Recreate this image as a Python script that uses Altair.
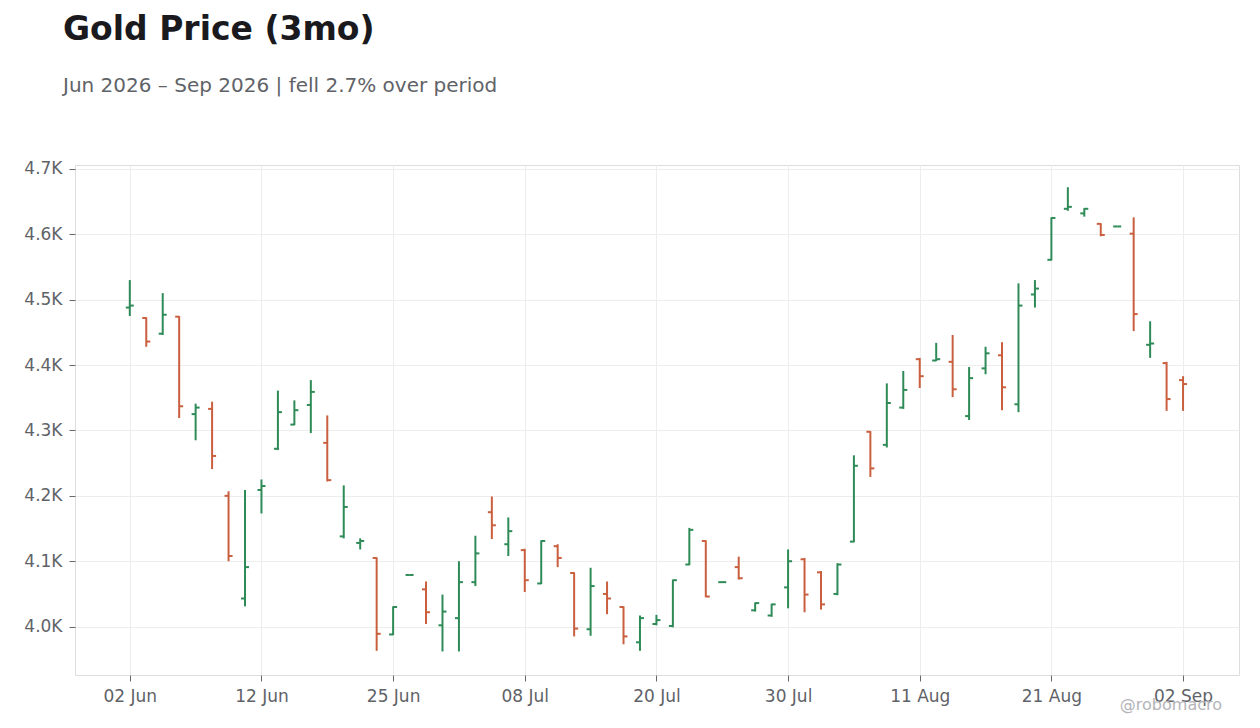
"""Gold price OHLC chart, last three months"""

import pandas as pd
import altair as alt

# trading days 02 Jun 2026 .. 02 Sep 2026 (US market holidays skipped)
holidays = ["2026-06-19", "2026-07-03"]
dates = pd.bdate_range("2026-06-02", "2026-09-02", freq="C", holidays=holidays)
tick_labels = [d.strftime("%d %b") for d in dates[::8]]

opens = [4488, 4472, 4448, 4474, 4325, 4333, 4200, 4043, 4209, 4272, 4309, 4339, 4281,
         4138, 4128, 4105, 3988, 4079, 4057, 4002, 4013, 4068, 4175, 4126, 4117, 4066,
         4123, 4082, 3996, 4050, 4030, 3976, 4004, 4001, 4095, 4131, 4068, 4091, 4025,
         4017, 4060, 4103, 4083, 4050, 4130, 4298, 4278, 4335, 4409, 4407, 4405, 4322,
         4395, 4415, 4340, 4508, 4561, 4639, 4632, 4616, 4612, 4601, 4431, 4403, 4377]
highs = [4530, 4473, 4510, 4475, 4341, 4344, 4207, 4209, 4225, 4361, 4346, 4377, 4323,
         4216, 4135, 4106, 4031, 4079, 4069, 4049, 4100, 4139, 4199, 4167, 4119, 4132,
         4126, 4083, 4090, 4069, 4031, 4017, 4018, 4072, 4151, 4132, 4069, 4107, 4037,
         4035, 4118, 4105, 4085, 4097, 4262, 4299, 4372, 4391, 4411, 4434, 4446, 4397,
         4428, 4435, 4525, 4530, 4626, 4672, 4640, 4617, 4612, 4626, 4467, 4405, 4383]
lows = [4475, 4428, 4446, 4319, 4285, 4241, 4100, 4031, 4173, 4270, 4308, 4296, 4222,
        4135, 4118, 3963, 3987, 4078, 4004, 3962, 3962, 4062, 4134, 4108, 4053, 4065,
        4091, 3985, 3986, 4019, 3973, 3963, 4002, 3999, 4094, 4045, 4067, 4072, 4023,
        4015, 4028, 4022, 4026, 4048, 4129, 4229, 4274, 4333, 4365, 4406, 4351, 4316,
        4386, 4331, 4328, 4488, 4560, 4636, 4627, 4597, 4612, 4452, 4411, 4330, 4330]
closes = [4491, 4436, 4477, 4337, 4335, 4261, 4108, 4091, 4215, 4328, 4331, 4359, 4224,
          4183, 4131, 3989, 4030, 4079, 4022, 4023, 4068, 4112, 4155, 4146, 4071, 4131,
          4105, 3997, 4062, 4043, 3985, 4013, 4010, 4071, 4148, 4046, 4068, 4074, 4036,
          4034, 4100, 4049, 4034, 4095, 4246, 4242, 4342, 4362, 4383, 4409, 4363, 4380,
          4418, 4366, 4491, 4517, 4625, 4642, 4639, 4599, 4612, 4478, 4433, 4348, 4371]

UP = "#2e8b57"
DOWN = "#c95f3e"
FONT = "DejaVu Sans"

df = pd.DataFrame({
    "i": range(len(dates)),
    "date": dates.strftime("%Y-%m-%d"),
    "open": opens,
    "high": highs,
    "low": lows,
    "close": closes,
})
df["dir"] = ["up" if c >= o else "down" for o, c in zip(opens, closes)]

label_js = "[" + ",".join(f"'{t}'" for t in tick_labels) + "]"

x_enc = alt.X(
    "i:Q",
    scale=alt.Scale(domain=[-3.33, 67.4], nice=False, zero=False),
    axis=alt.Axis(
        values=list(range(0, len(dates), 8)),
        labelExpr=f"{label_js}[round(datum.value / 8)]",
        title=None,
    ),
)
y_scale = alt.Scale(domain=[3926, 4706], nice=False, zero=False)
color_enc = alt.Color(
    "dir:N",
    scale=alt.Scale(domain=["up", "down"], range=[UP, DOWN]),
    legend=None,
)

base = alt.Chart(df)

# high-low bar
wick = base.mark_rule(strokeWidth=2).encode(
    x=x_enc,
    y=alt.Y(
        "low:Q",
        scale=y_scale,
        axis=alt.Axis(
            values=list(range(4000, 4701, 100)),
            labelExpr="format(datum.value / 1000, '.1f') + 'K'",
            title=None,
        ),
    ),
    y2="high:Q",
    color=color_enc,
)

# open tick on the left, close tick on the right
open_tick = base.mark_rule(strokeWidth=2, x2Offset=-4).encode(
    x="i:Q", x2="i:Q", y="open:Q", color=color_enc,
)
close_tick = base.mark_rule(strokeWidth=2, x2Offset=4).encode(
    x="i:Q", x2="i:Q", y="close:Q", color=color_enc,
)

watermark = alt.Chart(pd.DataFrame({"t": ["@robomacro"]})).mark_text(
    align="right", baseline="alphabetic", font=FONT, fontSize=16, color="#b4b4b8",
).encode(x=alt.value(1147), y=alt.value(545), text="t:N")

chart = (wick + open_tick + close_tick + watermark).properties(
    width=1164,
    height=510,
    autosize=alt.AutoSizeParams(type="none"),
    padding={"left": 67, "top": 157, "right": 12, "bottom": 40},
    title=alt.TitleParams(
        text="Gold Price (3mo)",
        subtitle="Jun 2026 – Sep 2026 | fell 2.7% over period",
        anchor="start",
        frame="group",
        dx=-12,
        offset=64,
        font=FONT,
        fontSize=33,
        fontWeight="bold",
        color="#1a1a1e",
        subtitleFont=FONT,
        subtitleFontSize=20,
        subtitleColor="#5f6368",
        subtitlePadding=29,
    ),
).configure_view(
    stroke="#dddddd",
).configure_axis(
    labelFont=FONT,
    labelFontSize=17,
    labelColor="#5f6368",
    grid=True,
    gridColor="#ededed",
    domain=False,
    tickColor="#666666",
    tickSize=6,
    labelPadding=7,
)

chart.save("out.html", embed_options={"renderer": "svg", "actions": False})
